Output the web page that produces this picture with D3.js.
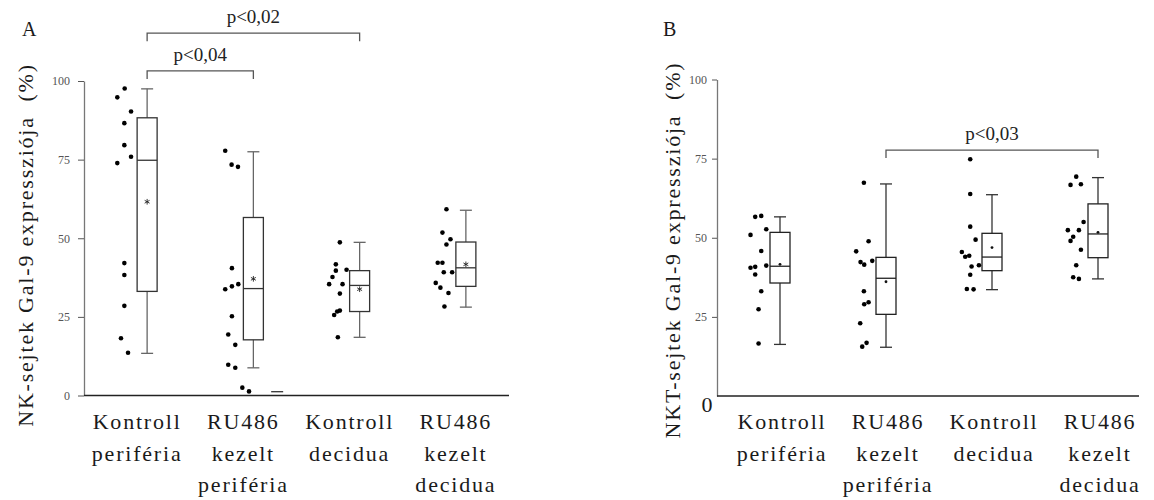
<!DOCTYPE html>
<html>
<head>
<meta charset="utf-8">
<script src="https://cdn.jsdelivr.net/npm/d3@7"></script>
<style>
  body { margin: 0; background: #fff; }
</style>
</head>
<body>
<div id="chart"></div>
<script>
// categories (same for both panels)
var categories = [
    ["Kontroll", "periféria"],
    ["RU486", "kezelt", "periféria"],
    ["Kontroll", "decidua"],
    ["RU486", "kezelt", "decidua"]
];
var yTicksA = [0, 25, 50, 75, 100];
var yTicksB = [25, 50, 75, 100];

// box statistics
var boxesA = [
    {min: 13.4, q1: 33.1, median: 74.8, q3: 88.3, max: 97.5, mean: 61.6},
    {min: 8.8,  q1: 17.7, median: 34.0, q3: 56.6, max: 77.5, mean: 37.1},
    {min: 18.5, q1: 26.7, median: 35.0, q3: 39.7, max: 48.7, mean: 33.8},
    {min: 28.1, q1: 34.7, median: 40.6, q3: 48.8, max: 58.9, mean: 41.7}
];
var boxesB = [
    {min: 16.3, q1: 35.7, median: 41.0, q3: 51.7, max: 56.6, mean: 41.6},
    {min: 15.4, q1: 25.8, median: 37.2, q3: 43.8, max: 67.0, mean: 36.1},
    {min: 33.6, q1: 39.6, median: 43.9, q3: 51.4, max: 63.6, mean: 46.9},
    {min: 37.0, q1: 43.7, median: 51.2, q3: 60.7, max: 69.0, mean: 51.7}
];

// single values: [value, jitter column]
var pointsA = [
    [[97.6,-6.7],[94.8,-8.9],[90.3,-4.8],[86.6,-6.8],[79.6,-6.8],[75.9,-4.8],[73.9,-8.9],
     [42.1,-6.8],[38.3,-6.8],[28.5,-6.8],[18.2,-7.8],[13.6,-5.7]],
    [[77.8,-8.4],[73.4,-6.5],[72.7,-4.6],[40.5,-6.4],[33.8,-8.4],[34.7,-6.4],[35.4,-4.5],
     [25.2,-6.4],[19.4,-7.5],[16.1,-5.4],[9.8,-7.5],[8.8,-5.4],[2.5,-3.3],[1.3,-1.3]],
    [[48.7,-5.9],[41.7,-7.1],[39.7,-7.1],[40.0,-3.9],[37.7,-8.1],[35.4,-9.1],[35.4,-5.1],
     [32.4,-5.9],[27.0,-5.9],[26.7,-6.7],[25.6,-7.6],[18.5,-6.5]],
    [[59.2,-5.8],[51.8,-7.0],[49.7,-4.6],[48.0,-5.8],[42.2,-8.4],[42.2,-7.0],[39.2,-6.6],
     [39.2,-4.1],[35.8,-9.0],[34.3,-7.6],[32.6,-5.2],[28.3,-6.4]]
];
var pointsB = [
    [[56.6,-7.4],[56.9,-5.6],[52.7,-4.1],[50.9,-8.8],[45.8,-5.6],[40.5,-8.8],[40.8,-7.4],
     [41.2,-4.1],[38.4,-7.4],[33.1,-5.6],[27.4,-6.4],[16.6,-6.4]],
    [[67.4,-6.6],[48.9,-5.2],[45.7,-8.9],[42.3,-7.6],[41.5,-6.5],[42.7,-4.1],[33.1,-6.6],
     [29.0,-6.5],[29.6,-5.2],[23.0,-7.7],[16.8,-5.8],[15.6,-7.1]],
    [[74.8,-6.5],[63.8,-6.5],[53.5,-6.5],[49.4,-4.9],[45.5,-9.0],[44.0,-8.0],[44.3,-6.8],
     [40.9,-6.1],[41.3,-3.9],[38.3,-6.5],[33.8,-7.5],[33.7,-5.5]],
    [[69.3,-6.5],[66.7,-8.2],[66.9,-5.1],[55.0,-4.3],[52.4,-9.0],[52.4,-5.7],[50.3,-7.4],
     [49.0,-8.2],[46.2,-5.1],[41.3,-6.5],[37.5,-7.4],[37.0,-5.7]]
];
// the lone dash under RU486 kezelt periféria (panel A)
var dashesA = [{cat: 1, value: 1.2, jitter: 7.1}];

// significance brackets
var bracketsA = [
    {from: 0, to: 1, level: 103.2, label: "p<0,04"},
    {from: 0, to: 2, level: 115.2, label: "p<0,02"}
];
var bracketsB = [
    {from: 1, to: 3, level: 77.7, label: "p<0,03"}
];

var SERIF = "'Liberation Serif', 'Times New Roman', serif";
// 24-28px swaps the serif face here, so large text stays at 22px and is spaced out
var BIG = "22px", BIG_SPACING = "1.8px";

var svg = d3.select("#chart").append("svg")
    .attr("width", 1154)
    .attr("height", 500);

function drawPanel(cfg) {
    var g = svg.append("g");
    var x = d3.scaleBand().domain(d3.range(categories.length)).range(cfg.xRange);
    var y = d3.scaleLinear().domain([0, 100]).range(cfg.yRange);
    var jit = d3.scaleLinear().domain([0, 1]).range([0, 3.35]);
    var bc = function(i) { return x(i) + x.bandwidth() / 2 + cfg.boxShift; };
    var bw = 20, cap = 12;

    // y axis
    var ya = g.append("g")
        .attr("transform", "translate(" + cfg.yAxisX + ",0)")
        .call(d3.axisLeft(y).tickValues(cfg.ticks).tickSize(cfg.tickSize)
              .tickPadding(cfg.tickPad).tickSizeOuter(0));
    ya.attr("font-family", null);
    ya.select(".domain").attr("stroke", "#777").attr("stroke-width", 1.3);
    ya.selectAll(".tick line").attr("stroke", "#555");
    ya.selectAll(".tick text").attr("fill", "#555")
      .style("font-family", SERIF).style("font-size", "12px");

    // x axis line
    g.append("line")
     .attr("x1", cfg.yAxisX).attr("x2", cfg.xAxisEnd)
     .attr("y1", y(0)).attr("y2", y(0))
     .attr("stroke", "#222").attr("stroke-width", 1.3);

    // category labels
    var lab = g.selectAll(".cat")
        .data(categories)
        .enter()
        .append("text")
        .attr("class", "cat")
        .attr("text-anchor", "middle")
        .style("font-family", SERIF)
        .style("font-size", BIG)
        .style("letter-spacing", BIG_SPACING)
        .attr("fill", "#1a1a1a");
    lab.each(function(d, i) {
        d3.select(this).selectAll("tspan")
          .data(d)
          .enter()
          .append("tspan")
          .attr("x", x(i) + x.bandwidth() / 2)
          .attr("y", function(t, j) { return 429 + j * 31.5; })
          .text(function(t) { return t; });
    });

    // y title
    g.append("text")
     .attr("transform", "translate(" + cfg.titleX + "," + cfg.titleY + ") rotate(-90)")
     .attr("text-anchor", "middle")
     .style("font-family", SERIF)
     .style("font-size", BIG)
     .style("letter-spacing", BIG_SPACING)
     .attr("fill", "#1a1a1a")
     .style("white-space", "pre")
     .text(cfg.title);

    // panel letter
    g.append("text")
     .attr("x", cfg.letterX).attr("y", 36)
     .style("font-family", SERIF)
     .style("font-size", "20px")
     .attr("fill", "#1a1a1a")
     .text(cfg.letter);

    // whiskers
    var bx = g.selectAll(".box").data(cfg.boxes).enter().append("g").attr("class", "box");
    bx.append("line")
      .attr("x1", function(d, i) { return bc(i); })
      .attr("x2", function(d, i) { return bc(i); })
      .attr("y1", function(d) { return y(d.max); })
      .attr("y2", function(d) { return y(d.min); })
      .attr("stroke", cfg.whiskerColor).attr("stroke-width", 1.3);
    ["max", "min"].forEach(function(k) {
        bx.append("line")
          .attr("x1", function(d, i) { return bc(i) - cap / 2; })
          .attr("x2", function(d, i) { return bc(i) + cap / 2; })
          .attr("y1", function(d) { return y(d[k]); })
          .attr("y2", function(d) { return y(d[k]); })
          .attr("stroke", cfg.whiskerColor).attr("stroke-width", 1.3);
    });
    bx.append("rect")
      .attr("x", function(d, i) { return bc(i) - bw / 2; })
      .attr("y", function(d) { return y(d.q3); })
      .attr("width", bw)
      .attr("height", function(d) { return y(d.q1) - y(d.q3); })
      .attr("fill", "#fff")
      .attr("stroke", cfg.boxColor).attr("stroke-width", 1.3);
    bx.append("line")
      .attr("x1", function(d, i) { return bc(i) - bw / 2; })
      .attr("x2", function(d, i) { return bc(i) + bw / 2; })
      .attr("y1", function(d) { return y(d.median); })
      .attr("y2", function(d) { return y(d.median); })
      .attr("stroke", cfg.boxColor).attr("stroke-width", 1.3);

    // mean markers
    if (cfg.meanStar) {
        bx.append("path")
          .attr("transform", function(d, i) { return "translate(" + bc(i) + "," + y(d.mean) + ")"; })
          .attr("d", d3.symbol(d3.symbolAsterisk, 22))
          .attr("fill", "none")
          .attr("stroke", "#222").attr("stroke-width", 0.9);
    } else {
        bx.append("circle")
          .attr("cx", function(d, i) { return bc(i); })
          .attr("cy", function(d) { return y(d.mean); })
          .attr("r", 1.4)
          .attr("fill", "#111");
    }

    // individual values
    cfg.points.forEach(function(pts, i) {
        g.selectAll(null)
         .data(pts)
         .enter()
         .append("circle")
         .attr("cx", function(d) { return bc(i) + jit(d[1]); })
         .attr("cy", function(d) { return y(d[0]); })
         .attr("r", 2.3)
         .attr("fill", "#000");
    });

    g.selectAll(null)
     .data(cfg.dashes)
     .enter()
     .append("line")
     .attr("x1", function(d) { return bc(d.cat) + jit(d.jitter) - 6; })
     .attr("x2", function(d) { return bc(d.cat) + jit(d.jitter) + 6; })
     .attr("y1", function(d) { return y(d.value); })
     .attr("y2", function(d) { return y(d.value); })
     .attr("stroke", "#222").attr("stroke-width", 1.2);

    // brackets
    var br = g.selectAll(".br").data(cfg.brackets).enter().append("g");
    br.append("path")
      .attr("d", function(d) {
          var yy = y(d.level);
          return "M" + bc(d.from) + "," + (yy + 8) + "V" + yy + "H" + bc(d.to) + "V" + (yy + 8);
      })
      .attr("fill", "none")
      .attr("stroke", "#555").attr("stroke-width", 1.3);
    br.append("text")
      .attr("x", function(d) { return (bc(d.from) + bc(d.to)) / 2; })
      .attr("y", function(d) { return y(d.level) - 10; })
      .attr("text-anchor", "middle")
      .style("font-family", SERIF)
      .style("font-size", "19px")
      .attr("fill", "#222")
      .text(function(d) { return d.label; });

    if (cfg.bigZero) {
        g.append("text")
         .attr("x", cfg.yAxisX - 10).attr("y", y(0) + 16)
         .attr("text-anchor", "middle")
         .style("font-family", SERIF)
         .style("font-size", BIG)
         .attr("fill", "#1a1a1a")
         .text("0");
    }
}

drawPanel({
    letter: "A", letterX: 22,
    title: "NK-sejtek Gal-9 expressziója  (%)", titleX: 33, titleY: 245,
    xRange: [84, 509], yRange: [395.5, 81], yAxisX: 84, xAxisEnd: 509,
    boxShift: 10, ticks: yTicksA, tickSize: 6, tickPad: 8,
    boxes: boxesA, points: pointsA, dashes: dashesA, brackets: bracketsA,
    boxColor: "#333", whiskerColor: "#666", meanStar: true, bigZero: false
});

drawPanel({
    letter: "B", letterX: 663,
    title: "NKT-sejtek Gal-9 expressziója  (%)", titleX: 680, titleY: 250,
    xRange: [729, 1153], yRange: [396, 79.5], yAxisX: 717, xAxisEnd: 1139,
    boxShift: -2, ticks: yTicksB, tickSize: 5, tickPad: 5,
    boxes: boxesB, points: pointsB, dashes: [], brackets: bracketsB,
    boxColor: "#222", whiskerColor: "#333", meanStar: false, bigZero: true
});
</script>
</body>
</html>
